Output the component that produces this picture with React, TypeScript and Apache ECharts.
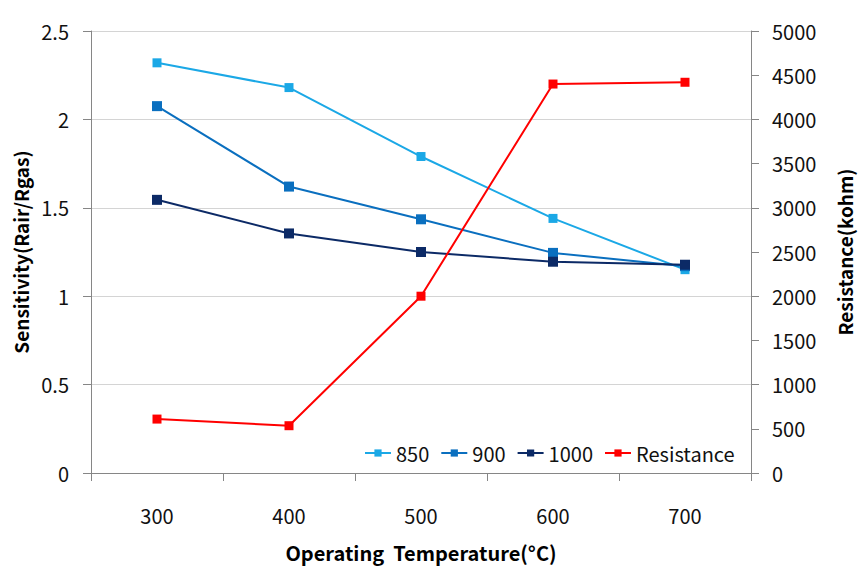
import React, { useEffect, useRef } from "react";
import * as echarts from "echarts";

const categories = ["300", "400", "500", "600", "700"];
const s850 = [2.32, 2.18, 1.79, 1.44, 1.15];
const s900 = [2.075, 1.62, 1.435, 1.245, 1.17];
const s1000 = [1.545, 1.355, 1.25, 1.195, 1.178];
const resistance = [610, 535, 2000, 4400, 4420];

const FONT = "'Noto Sans CJK KR', 'Open Sans', sans-serif";

export default function App() {
  const ref = useRef<HTMLDivElement>(null);
  useEffect(() => {
    const chart = echarts.init(ref.current!, null, { renderer: "svg" });
    const lineSeries = (name: string, data: number[], color: string, yAxisIndex: number, size: number) => ({
      name,
      type: "line",
      data,
      yAxisIndex,
      symbol: "rect",
      symbolSize: size,
      lineStyle: { color, width: 2 },
      itemStyle: { color },
      z: 3,
    });
    chart.setOption({
      animation: false,
      backgroundColor: "#ffffff",
      textStyle: { fontFamily: FONT },
      grid: { left: 91, right: 114, top: 31, bottom: 100 },
      legend: {
        left: 359,
        top: 438,
        itemGap: 11,
        itemWidth: 26,
        itemHeight: 9,
        textStyle: { fontSize: 20, color: "#111", fontFamily: FONT },
        data: ["850", "900", "1000", "Resistance"],
      },
      xAxis: {
        type: "category",
        data: categories,
        boundaryGap: true,
        name: "Operating  Temperature(°C)",
        nameLocation: "middle",
        nameGap: 69,
        nameTextStyle: { fontSize: 20, fontWeight: "bold", color: "#000", fontFamily: FONT },
        axisLine: { lineStyle: { color: "#868686", width: 1 } },
        axisTick: { show: true, alignWithLabel: false, length: 8, lineStyle: { color: "#868686" } },
        axisLabel: { fontSize: 20, color: "#111", margin: 32, fontFamily: FONT },
        splitLine: { show: false },
      },
      yAxis: [
        {
          type: "value",
          min: 0,
          max: 2.5,
          interval: 0.5,
          name: "Sensitivity(Rair/Rgas)",
          nameLocation: "middle",
          nameRotate: 90,
          nameGap: 56,
          nameTextStyle: { fontSize: 19, fontWeight: "bold", color: "#000", fontFamily: FONT },
          axisLine: { show: true, lineStyle: { color: "#868686" } },
          axisTick: { show: true, length: 8, lineStyle: { color: "#868686" } },
          axisLabel: { fontSize: 20, color: "#111", margin: 22, fontFamily: FONT, formatter: (v: number) => String(v) },
          splitLine: { show: true, lineStyle: { color: "#d4d4d4", width: 1 } },
        },
        {
          type: "value",
          min: 0,
          max: 5000,
          interval: 500,
          position: "right",
          name: "Resistance(kohm)",
          nameLocation: "middle",
          nameRotate: 90,
          nameGap: 84,
          nameTextStyle: { fontSize: 19, fontWeight: "bold", color: "#000", fontFamily: FONT },
          axisLine: { show: true, lineStyle: { color: "#868686" } },
          axisTick: { show: true, length: 8, lineStyle: { color: "#868686" } },
          axisLabel: { fontSize: 20, color: "#111", margin: 21, fontFamily: FONT, formatter: (v: number) => String(v) },
          splitLine: { show: false },
        },
      ],
      series: [
        lineSeries("850", s850, "#1ba8e6", 0, 9),
        lineSeries("900", s900, "#0a6fbf", 0, 10),
        lineSeries("1000", s1000, "#0c2a66", 0, 10),
        lineSeries("Resistance", resistance, "#ff0000", 1, 9),
      ],
    });
    return () => chart.dispose();
  }, []);
  return <div ref={ref} style={{ position: "fixed", left: 0, top: 0, width: 865, height: 573 }} />;
}
